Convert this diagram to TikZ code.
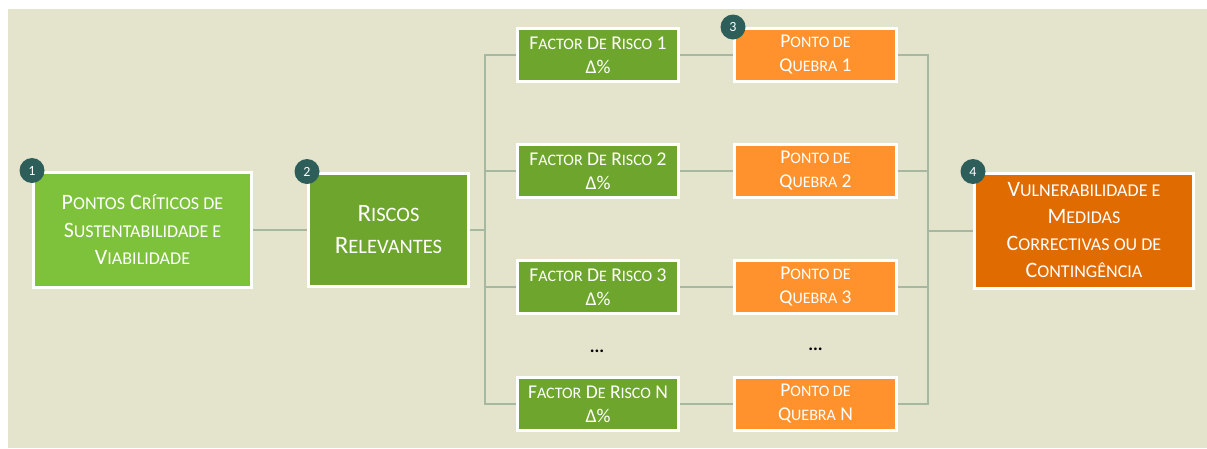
\documentclass[tikz,border=0pt]{standalone}
\usepackage{fontspec}
\setmainfont{Carlito}

\definecolor{bgc}{RGB}{228,227,204}
\definecolor{lightg}{RGB}{125,194,58}
\definecolor{darkg}{RGB}{110,166,45}
\definecolor{orangeq}{RGB}{255,146,45}
\definecolor{orangev}{RGB}{224,107,0}
\definecolor{badgec}{RGB}{46,94,90}
\definecolor{linec}{RGB}{166,184,160}

% lower case part of the small caps
\makeatletter
\newcommand\lw[1]{{\@tempdima=\f@size pt\@tempdima=0.82\@tempdima\fontsize{\the\@tempdima}{\f@baselineskip}\selectfont #1}}
\makeatother

\tikzstyle{box}=[draw=white,line width=3pt,text=white,align=center,inner sep=0pt]
\tikzstyle{factor}=[box,fill=darkg,minimum width=161pt,minimum height=53pt,font=\fontsize{19.5}{24}\selectfont]
\tikzstyle{quebra}=[box,fill=orangeq,minimum width=162pt,minimum height=53pt,font=\fontsize{19.5}{24}\selectfont]
\tikzstyle{badge}=[circle,fill=badgec,text=white,minimum size=25pt,inner sep=0pt,font=\fontsize{14}{14}\selectfont]
\tikzstyle{link}=[draw=linec,line width=2pt]

\begin{document}
\begin{tikzpicture}[x=1pt,y=-1pt]

   \useasboundingbox (0,0) rectangle (1207,448);
   \fill[bgc] (8,9) rectangle (1207,448);

   % Pontos criticos and riscos

   \node[box,fill=lightg,minimum width=218pt,minimum height=115pt,
     font=\fontsize{22}{27.5}\selectfont] (pc) at (142.5,229.5)
     {P\lw{ONTOS} C\lw{RÍTICOS DE}\\S\lw{USTENTABILIDADE E}\\V\lw{IABILIDADE}};

   \node[box,fill=darkg,minimum width=160pt,minimum height=113pt,
     font=\fontsize{25}{32}\selectfont] (rr) at (388.5,229.5)
     {R\lw{ISCOS}\\R\lw{ELEVANTES}};

   % Factor boxes

   \node[factor] (f1) at (598,55) {F\lw{ACTOR} D\lw{E} R\lw{ISCO} 1\\Δ\%};
   \node[factor] (f2) at (598,171) {F\lw{ACTOR} D\lw{E} R\lw{ISCO} 2\\Δ\%};
   \node[factor] (f3) at (598,287) {F\lw{ACTOR} D\lw{E} R\lw{ISCO} 3\\Δ\%};
   \node[factor] (fn) at (598,404) {F\lw{ACTOR} D\lw{E} R\lw{ISCO} N\\Δ\%};

   % Ponto de quebra boxes

   \node[quebra] (q1) at (815.5,55) {P\lw{ONTO DE}\\Q\lw{UEBRA} 1};
   \node[quebra] (q2) at (815.5,171) {P\lw{ONTO DE}\\Q\lw{UEBRA} 2};
   \node[quebra] (q3) at (815.5,287) {P\lw{ONTO DE}\\Q\lw{UEBRA} 3};
   \node[quebra] (qn) at (815.5,404) {P\lw{ONTO DE}\\Q\lw{UEBRA} N};

   \node[font=\fontsize{18}{18}\selectfont\bfseries] (fdots) at (597,351) {...};
   \node[font=\fontsize{18}{18}\selectfont\bfseries] (qdots) at (815.5,349) {...};

   % Vulnerabilidade

   \node[box,fill=orangev,minimum width=219pt,minimum height=115pt,
     font=\fontsize{22}{27}\selectfont] (vm) at (1084,230.5)
     {V\lw{ULNERABILIDADE E}\\M\lw{EDIDAS}\\C\lw{ORRECTIVAS OU DE}\\C\lw{ONTINGÊNCIA}};

   % Connectors

   \coordinate (busl) at (485,229.5);
   \coordinate (busr) at (928,230.5);

   \draw[link] (pc.east) -- (rr.west);
   \draw[link] (rr.east) -- (busl);
   \draw[link] (f1.west) -| (busl);
   \draw[link] (f2.west) -| (busl);
   \draw[link] (f3.west) -| (busl);
   \draw[link] (fn.west) -| (busl);

   \draw[link] (f1.east) -- (q1.west);
   \draw[link] (f2.east) -- (q2.west);
   \draw[link] (f3.east) -- (q3.west);
   \draw[link] (fn.east) -- (qn.west);

   \draw[link] (q1.east) -| (busr);
   \draw[link] (q2.east) -| (busr);
   \draw[link] (q3.east) -| (busr);
   \draw[link] (qn.east) -| (busr);
   \draw[link] (busr) -- (vm.west);

   % Numbered badges

   \node[badge] (b1) at (pc.north west) {1};
   \node[badge] (b2) at (rr.north west) {2};
   \node[badge] (b3) at (q1.north west) {3};
   \node[badge] (b4) at (vm.north west) {4};

\end{tikzpicture}
\end{document}
